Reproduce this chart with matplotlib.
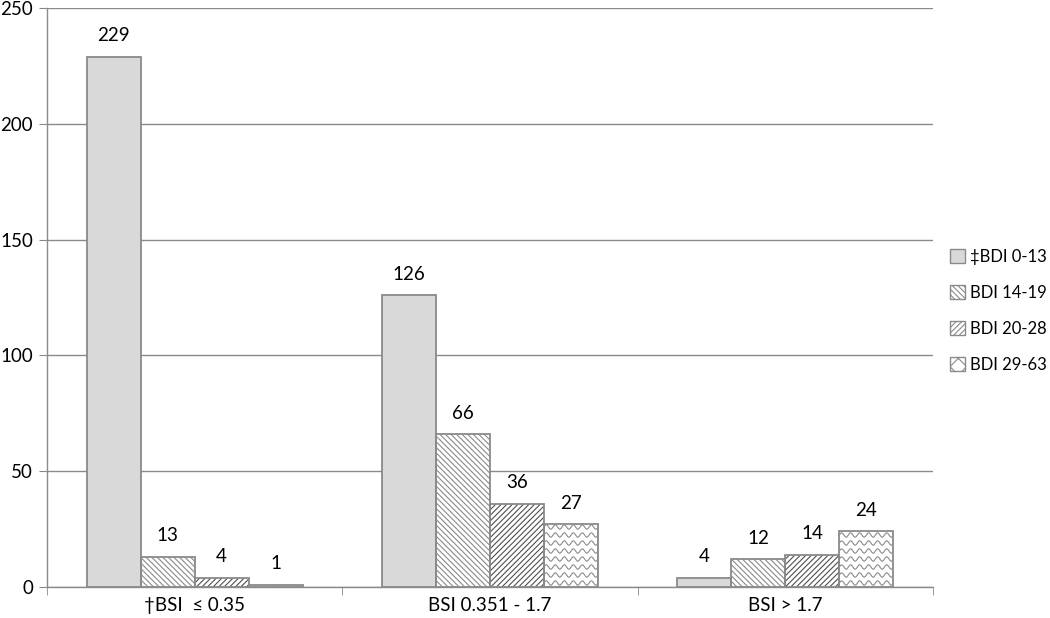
import numpy as np
import matplotlib.pyplot as plt
from matplotlib.patches import Patch

# ------------------------------------------------------------------
categories = ["\u2020BSI  \u2264 0.35", "BSI 0.351 - 1.7", "BSI > 1.7"]
series_names = ["\u2021BDI 0-13", "BDI 14-19", "BDI 20-28", "BDI 29-63"]
bdi_0_13 = [229, 126, 4]
bdi_14_19 = [13, 66, 12]
bdi_20_28 = [4, 36, 14]
bdi_29_63 = [1, 27, 24]
values = [bdi_0_13, bdi_14_19, bdi_20_28, bdi_29_63]

EDGE = "#8a8a8a"
FILL = "#d9d9d9"
BAR_W = 0.183
plt.rcParams["font.family"] = ["Lato", "DejaVu Sans"]
plt.rcParams["hatch.linewidth"] = 0.8
# ------------------------------------------------------------------


def wavy_fill(ax, rect, color="#8a8a8a"):
    """Draw wavy lines inside a bar, clipped to it."""
    x0, y0 = rect.get_x(), rect.get_y()
    w, h = rect.get_width(), rect.get_height()
    px_x = 1 / 295.0          # data units per pixel (x)
    px_y = 250 / 579.0        # data units per pixel (y)
    xs = np.linspace(x0, x0 + w, 200)
    step = 8 * px_y
    y = y0 + step / 2
    while y < y0 + h + step:
        ys = y + 2.2 * px_y * np.sin(2 * np.pi * (xs - x0) / (9 * px_x))
        ln, = ax.plot(xs, ys, color=color, lw=0.8, zorder=3)
        ln.set_clip_path(rect)
        y += step


fig = plt.figure(figsize=(10.5, 6.18), dpi=100)
ax = fig.add_axes([47 / 1050, 1 - 587 / 618, (933 - 47) / 1050, (587 - 8) / 618])

x = np.arange(len(categories))
offsets = (np.arange(4) - 1.5) * BAR_W
styles = [
    dict(color=FILL, hatch=None, hcol=None),
    dict(color="white", hatch="\\\\\\\\\\\\", hcol="#8a8a8a"),
    dict(color="white", hatch="//////", hcol="#505050"),
    dict(color="white", hatch=None, hcol=None),
]

handles = []
for i, (vals, st) in enumerate(zip(values, styles)):
    xpos = x + offsets[i]
    if st["hatch"]:
        ax.bar(xpos, vals, BAR_W, color=st["color"], hatch=st["hatch"],
               edgecolor=st["hcol"], linewidth=0, zorder=2)
    else:
        ax.bar(xpos, vals, BAR_W, color=st["color"], linewidth=0, zorder=2)
    bars = ax.bar(xpos, vals, BAR_W, facecolor="none",
                  edgecolor=EDGE, linewidth=1.3, zorder=4)
    if i == 3:
        for b in bars:
            wavy_fill(ax, b)
    for xp, v in zip(xpos, vals):
        ax.annotate(str(v), (xp, v), xytext=(0, 9), textcoords="offset points",
                    ha="center", va="bottom", fontsize=13.5)
    handles.append(Patch(facecolor=st["color"], edgecolor=EDGE,
                         hatch=st["hatch"] if st["hatch"] else ("xx" if i == 3 else None)))

ax.set_xlim(-0.5, 2.5)
ax.set_ylim(0, 250)
ax.set_yticks(np.arange(0, 251, 50))
ax.yaxis.grid(True, color="#8a8a8a", lw=1.0)
ax.set_axisbelow(True)
ax.set_xticks(x)
ax.set_xticklabels(categories, fontsize=13.5)
ax.tick_params(axis="x", length=0, pad=7)
ax.set_xticks([-0.5, 0.5, 1.5, 2.5], minor=True)
ax.tick_params(axis="x", which="minor", length=6, color=EDGE, direction="out")
ax.tick_params(axis="y", length=6, color=EDGE, labelsize=13.5, pad=4)
for s in ["top", "right"]:
    ax.spines[s].set_visible(False)
for s in ["left", "bottom"]:
    ax.spines[s].set_color(EDGE)
    ax.spines[s].set_linewidth(1.0)

fig.legend(handles, series_names, loc="center left",
           bbox_to_anchor=(0.905, 0.497), frameon=False, fontsize=12,
           handlelength=0.9, handleheight=0.9, handletextpad=0.3,
           labelspacing=1.2, borderpad=0, borderaxespad=0)

fig.savefig("out.png", dpi=100)
